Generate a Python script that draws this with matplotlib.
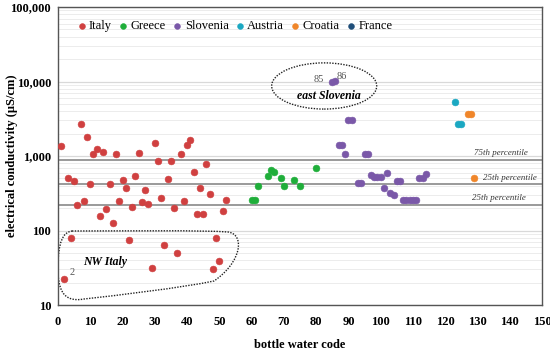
import matplotlib.pyplot as plt
import numpy as np
from matplotlib.path import Path
from matplotlib.patches import Ellipse, PathPatch
from matplotlib.ticker import FixedLocator, LogLocator, NullFormatter

# bottle water codes and electrical conductivity (uS/cm)
italy_x = list(range(1, 53))
italy_y = [1375, 22, 512, 80, 462, 220, 2690, 251, 1780, 417,
           1075, 1253, 157, 1132, 192, 417, 125, 1075, 251, 476,
           368, 75, 207, 544, 1108, 241, 353, 225, 31, 1480,
           849, 273, 64, 496, 845, 200, 50, 1075, 251, 1406,
           1623, 610, 168, 368, 168, 774, 312, 30, 79, 39,
           183, 257]
greece_x = [60, 61, 62, 65, 66, 67, 69, 70, 73, 75, 80]
greece_y = [257, 255, 392, 539, 649, 618, 507, 392, 472, 400, 684]
slovenia_x = [85, 86, 87, 88, 89, 90, 91, 93, 94, 95, 96, 97, 98, 99, 100,
              101, 102, 103, 104, 105, 106, 107, 108, 109, 110, 111, 112, 113, 114]
slovenia_y = [9940, 10250, 1390, 1390, 1064, 3040, 3040, 430, 430, 1064, 1064,
              551, 518, 518, 518, 368, 586, 319, 300, 457, 457,
              259, 259, 259, 259, 259, 502, 502, 573]
austria_x = [123, 124, 125]
austria_y = [5360, 2660, 2660]
croatia_x = [127, 128, 129]
croatia_y = [3630, 3630, 502]
france_x = []
france_y = []

p75 = 884
p25a = 421
p25b = 222

series = [
    ("Italy", italy_x, italy_y, "#d04040"),
    ("Greece", greece_x, greece_y, "#1fae3a"),
    ("Slovenia", slovenia_x, slovenia_y, "#7a58a8"),
    ("Austria", austria_x, austria_y, "#1ba8c2"),
    ("Croatia", croatia_x, croatia_y, "#f0862a"),
    ("France", france_x, france_y, "#1f4e79"),
]

plt.rcParams['font.family'] = ['Liberation Serif', 'DejaVu Serif']

fig = plt.figure(figsize=(5.5, 3.52), dpi=100)
ax = fig.add_axes([58/550, 47/352, 484/550, 298/352])

ax.set_yscale("log")
ax.set_ylim(10, 100000)
ax.set_xlim(0, 150)

ax.yaxis.set_major_locator(FixedLocator([10, 100, 1000, 10000, 100000]))
ax.set_yticklabels(["10", "100", "1,000", "10,000", "100,000"])
ax.yaxis.set_minor_locator(LogLocator(base=10, subs=np.arange(2, 10)))
ax.yaxis.set_minor_formatter(NullFormatter())
ax.set_xticks(np.arange(0, 151, 10))

ax.grid(axis="y", which="major", color="#d9d9d9", lw=0.9)
ax.grid(axis="y", which="minor", color="#ececec", lw=0.7)
ax.set_axisbelow(True)
ax.tick_params(which="both", length=0)
ax.tick_params(labelsize=9)
ax.tick_params(axis="x", pad=8)
ax.tick_params(axis="y", pad=5)
for lab in ax.get_xticklabels() + ax.get_yticklabels():
    lab.set_fontweight("bold")
for sp_ in ax.spines.values():
    sp_.set_color("#555555")
    sp_.set_linewidth(1.0)

for val in (p75, p25a, p25b):
    ax.axhline(val, color="#9a9a9a", lw=1.4, zorder=1)

for name, xs, ys, col in series:
    ax.scatter(xs, ys, s=24, color=col, edgecolors=col, linewidths=0.4,
               label=name, zorder=3)

ax.text(145.5, p75 * 1.08, "75th percentile", style="italic", fontsize=6.4,
        ha="right", va="bottom", color="#333333")
ax.text(148.5, p25a * 1.08, "25th percentile", style="italic", fontsize=6.4,
        ha="right", va="bottom", color="#333333")
ax.text(145, p25b * 1.08, "25th percentile", style="italic", fontsize=6.4,
        ha="right", va="bottom", color="#333333")

# east Slovenia annotation
ell = Ellipse((0.55, 0.735), 0.217, 0.155, transform=ax.transAxes,
              fill=False, ls=(0, (1, 1)), lw=1.0, color="#222222", zorder=2)
ax.add_patch(ell)
ax.text(82.5, 9300, "85", fontsize=7.5, color="#555555", ha="right", va="bottom")
ax.text(86.5, 10300, "86", fontsize=7.5, color="#555555", ha="left", va="bottom")
ax.text(84, 6300, "east Slovenia", fontsize=8.5, fontweight="bold",
        style="italic", ha="center", va="center")

# NW Italy annotation (shape in axes fraction)
def fx(px):
    return (px - 58) / 484

def fy(py):
    return (305 - py) / 298

verts = [
    (fx(72), fy(231)),
    (fx(130), fy(231)), (fx(200), fy(230)), (fx(228), fy(232)),
    (fx(245), fy(234)), (fx(242), fy(262)), (fx(214), fy(281)),
    (fx(180), fy(288)), (fx(120), fy(295)), (fx(84), fy(299)),
    (fx(62), fy(303)), (fx(58), fy(288)), (fx(58), fy(268)),
    (fx(58), fy(242)), (fx(63), fy(232)), (fx(72), fy(231)),
]
codes = [Path.MOVETO] + [Path.CURVE4] * 15
nw = PathPatch(Path(verts, codes), transform=ax.transAxes, fill=False,
               ls=(0, (1, 1)), lw=1.0, color="#222222", zorder=2)
ax.add_patch(nw)
ax.text(14.5, 38, "NW Italy", fontsize=8.5, fontweight="bold", style="italic",
        ha="center", va="center")
ax.text(3.5, 24, "2", fontsize=7.5, color="#555555", ha="left", va="bottom")

leg = ax.legend(loc="upper left", ncol=6, frameon=False, fontsize=9,
                handletextpad=0.0, columnspacing=0.3, handlelength=1.2,
                markerscale=0.85, bbox_to_anchor=(0.015, 0.985),
                borderaxespad=0.3)

ax.set_xlabel("bottle water code", fontsize=9, fontweight="bold", labelpad=8)
fig.text(0.022, (47 + 149) / 352, "electrical conductivity (\u03bcS/cm)",
         fontsize=9, fontweight="bold", rotation=90, ha="center", va="center")

fig.savefig("out.png", dpi=100)
